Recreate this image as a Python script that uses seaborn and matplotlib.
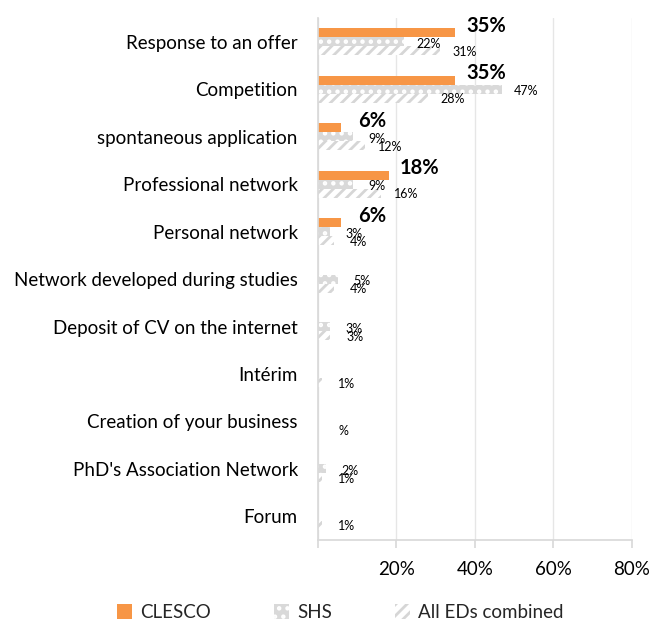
import numpy as np
import pandas as pd
import matplotlib
matplotlib.use("Agg")
import matplotlib.pyplot as plt
import matplotlib.ticker as ticker
import seaborn as sns

# ─── DATA ─────────────────────────────────────────────────────────────────────
CATEGORIES = [
    "Response to an offer",
    "Competition",
    "spontaneous application",
    "Professional network",
    "Personal network",
    "Network developed during studies",
    "Deposit of CV on the internet",
    "Intérim",
    "Creation of your business",
    "PhD's Association Network",
    "Forum",
]
SERIES = ["CLESCO", "SHS", "All EDs combined"]
CLESCO = [35, 35, 6, 18, 6, 0, 0, 0, 0, 0, 0]
SHS = [22, 47, 9, 9, 3, 5, 3, 0, 0, 2, 0]
ALL_EDS = [31, 28, 12, 16, 4, 4, 3, 1, 0, 1, 1]
CLESCO_LABELS = ["35%", "35%", "6%", "18%", "6%", "", "", "", "", "", ""]
SHS_LABELS = ["22%", "47%", "9%", "9%", "3%", "5%", "3%", "", "", "2%", ""]
ALL_LABELS = ["31%", "28%", "12%", "16%", "4%", "4%", "3%", "1%", "%", "1%", "1%"]
X_TICKS = [0, 20, 40, 60, 80]

# ─── STYLE ────────────────────────────────────────────────────────────────────
sns.set_theme(style="white")
plt.rcParams["font.family"] = ["Lato", "DejaVu Sans"]
plt.rcParams["hatch.linewidth"] = 2.0

COLORS = ["#F79646", "#D9D9D9", "#FFFFFF"]
PX = 0.72  # pixels -> points at 100 dpi


def main():
    df = pd.DataFrame({
        "Category": CATEGORIES * 3,
        "Value": CLESCO + SHS + ALL_EDS,
        "Series": [s for s in SERIES for _ in CATEGORIES],
    })

    fig = plt.figure(figsize=(6.61, 6.30), dpi=100)
    ax = fig.add_axes([0.481, 0.143, 0.475, 0.828])

    sns.barplot(
        data=df, y="Category", x="Value", hue="Series", orient="h",
        palette=COLORS, hue_order=SERIES, width=0.57, gap=0,
        ax=ax, legend=False, saturation=1,
    )

    # patterns: SHS dotted gray, All EDs gray diagonal dashes
    for bar in ax.containers[0]:
        bar.set_edgecolor("none")
    for bar in ax.containers[1]:
        bar.set_facecolor("#D9D9D9")
        bar.set_edgecolor("white")
        bar.set_hatch("..")
        bar.set_linewidth(0)
    for bar in ax.containers[2]:
        bar.set_facecolor("white")
        bar.set_edgecolor("#D6D6D6")
        bar.set_hatch("///")
        bar.set_linewidth(0)

    # data labels
    specs = [
        (CLESCO_LABELS, 31, 7, dict(fontsize=14.5, fontweight="bold")),
        (SHS_LABELS, 24, -2, dict(fontsize=9)),
        (ALL_LABELS, 25, -1, dict(fontsize=9)),
    ]
    for cont, (labels, dx, dy, kw) in zip(ax.containers, specs):
        for bar, lab in zip(cont, labels):
            if not lab:
                continue
            y = bar.get_y() + bar.get_height() / 2
            ax.annotate(lab, (bar.get_width(), y),
                        xytext=(dx * PX, dy * PX), textcoords="offset points",
                        ha="center", va="center", color="#000000", **kw)

    ax.set_xlim(0, 80)
    ax.set_ylim(10.5, -0.5)
    ax.set_xticks(X_TICKS)
    ax.xaxis.set_major_formatter(
        ticker.FuncFormatter(lambda x, _: "" if x == 0 else f"{x:.0f}%"))
    ax.grid(axis="x", color="#E6E6E6", linewidth=1)
    ax.set_axisbelow(True)
    ax.set_xlabel("")
    ax.set_ylabel("")
    for side in ["top", "right"]:
        ax.spines[side].set_visible(False)
    ax.spines["left"].set_color("#D9D9D9")
    ax.spines["bottom"].set_color("#D9D9D9")
    ax.tick_params(axis="x", bottom=True, length=6, color="#D9D9D9",
                   labelsize=13.5, pad=9, labelcolor="#000000")
    ax.tick_params(axis="y", left=False, labelsize=13.5, pad=8.5,
                   labelcolor="#000000")

    handles = [
        plt.Rectangle((0, 0), 1, 1, facecolor=COLORS[0], edgecolor="none"),
        plt.Rectangle((0, 0), 1, 1, facecolor="#D9D9D9", edgecolor="white",
                      hatch="..", linewidth=0),
        plt.Rectangle((0, 0), 1, 1, facecolor="white", edgecolor="#D6D6D6",
                      hatch="///", linewidth=0),
    ]
    fig.legend(handles, SERIES, loc="center", bbox_to_anchor=(0.515, 0.028),
               ncol=3, frameon=False, fontsize=13.5, columnspacing=3.4,
               handlelength=0.8, handleheight=0.8, handletextpad=0.4)

    fig.savefig("out.png", dpi=100)


if __name__ == "__main__":
    main()
